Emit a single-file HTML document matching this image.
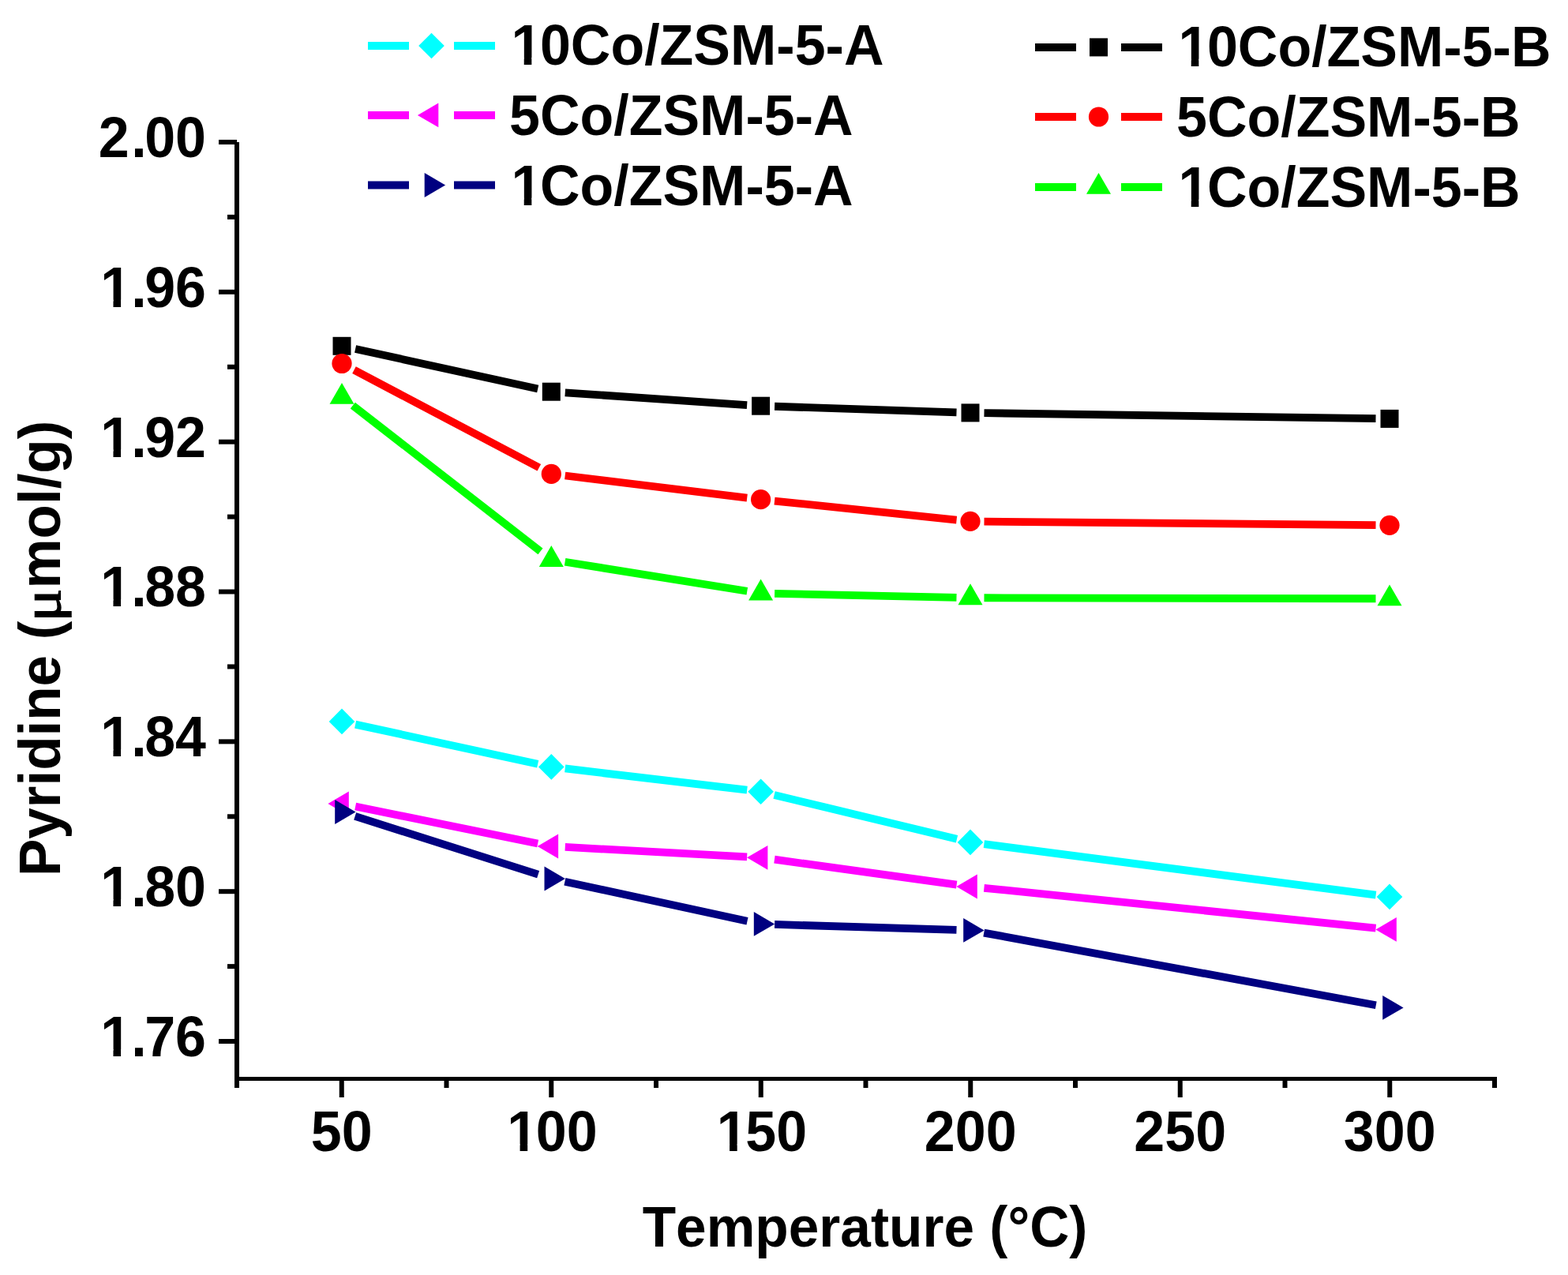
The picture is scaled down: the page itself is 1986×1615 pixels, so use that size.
<!DOCTYPE html>
<html><head><meta charset="utf-8"><title>Pyridine vs Temperature</title>
<style>
html,body{margin:0;padding:0;background:#fff;}
body{width:1986px;height:1615px;overflow:hidden;}
svg{display:block;}
text{font-family:"Liberation Sans",Arial,sans-serif;font-weight:bold;fill:#000;font-kerning:none;}
</style></head><body>
<svg width="1986" height="1615" viewBox="0 0 1986 1615">
<rect width="1986" height="1615" fill="#fff"/>
<g fill="#000">
<rect x="297" y="180" width="6" height="1198"/>
<rect x="297" y="1364" width="1599" height="5"/>
<rect x="277" y="177.00" width="23" height="6"/>
<rect x="277" y="366.84" width="23" height="6"/>
<rect x="277" y="556.68" width="23" height="6"/>
<rect x="277" y="746.52" width="23" height="6"/>
<rect x="277" y="936.36" width="23" height="6"/>
<rect x="277" y="1126.20" width="23" height="6"/>
<rect x="277" y="1316.04" width="23" height="6"/>
<rect x="288" y="271.92" width="12" height="6"/>
<rect x="288" y="461.76" width="12" height="6"/>
<rect x="288" y="651.60" width="12" height="6"/>
<rect x="288" y="841.44" width="12" height="6"/>
<rect x="288" y="1031.28" width="12" height="6"/>
<rect x="288" y="1221.12" width="12" height="6"/>
<rect x="429.75" y="1366" width="6" height="24"/>
<rect x="695.25" y="1366" width="6" height="24"/>
<rect x="960.75" y="1366" width="6" height="24"/>
<rect x="1226.25" y="1366" width="6" height="24"/>
<rect x="1491.75" y="1366" width="6" height="24"/>
<rect x="1757.25" y="1366" width="6" height="24"/>
<rect x="562.50" y="1366" width="6" height="12"/>
<rect x="828.00" y="1366" width="6" height="12"/>
<rect x="1093.50" y="1366" width="6" height="12"/>
<rect x="1359.00" y="1366" width="6" height="12"/>
<rect x="1624.50" y="1366" width="6" height="12"/>
<rect x="1890.00" y="1366" width="6" height="12"/>
</g>
<text transform="translate(261.00 198.90) scale(1 1.037)" x="-136.24" font-size="70">2<tspan dx="2.60">.</tspan><tspan dx="-2.60">0</tspan>0</text>
<text transform="translate(261.00 388.74) scale(1 1.037)" x="-136.24" font-size="70" clip-path="url(#c1)"><tspan dx="2.39">1</tspan><tspan dx="0.21">.</tspan><tspan dx="-2.60">9</tspan>6</text>
<text transform="translate(261.00 578.58) scale(1 1.037)" x="-136.24" font-size="70" clip-path="url(#c2)"><tspan dx="2.39">1</tspan><tspan dx="0.21">.</tspan><tspan dx="-2.60">9</tspan>2</text>
<text transform="translate(261.00 768.42) scale(1 1.037)" x="-136.24" font-size="70" clip-path="url(#c3)"><tspan dx="2.39">1</tspan><tspan dx="0.21">.</tspan><tspan dx="-2.60">8</tspan>8</text>
<text transform="translate(261.00 958.26) scale(1 1.037)" x="-136.24" font-size="70" clip-path="url(#c4)"><tspan dx="2.39">1</tspan><tspan dx="0.21">.</tspan><tspan dx="-2.60">8</tspan>4</text>
<text transform="translate(261.00 1148.10) scale(1 1.037)" x="-136.24" font-size="70" clip-path="url(#c5)"><tspan dx="2.39">1</tspan><tspan dx="0.21">.</tspan><tspan dx="-2.60">8</tspan>0</text>
<text transform="translate(261.00 1337.94) scale(1 1.037)" x="-136.24" font-size="70" clip-path="url(#c6)"><tspan dx="2.39">1</tspan><tspan dx="0.21">.</tspan><tspan dx="-2.60">7</tspan>6</text>
<text transform="translate(432.75 1458.20) scale(1 1.037)" x="-38.93" font-size="70">50</text>
<text transform="translate(698.25 1458.20) scale(1 1.037)" x="-58.40" font-size="70" clip-path="url(#c7)"><tspan dx="2.39">1</tspan><tspan dx="-2.39">0</tspan>0</text>
<text transform="translate(963.75 1458.20) scale(1 1.037)" x="-58.40" font-size="70" clip-path="url(#c8)"><tspan dx="2.39">1</tspan><tspan dx="-2.39">5</tspan>0</text>
<text transform="translate(1229.25 1458.20) scale(1 1.037)" x="-58.40" font-size="70">200</text>
<text transform="translate(1494.75 1458.20) scale(1 1.037)" x="-58.40" font-size="70">250</text>
<text transform="translate(1760.25 1458.20) scale(1 1.037)" x="-58.40" font-size="70">300</text>
<text transform="translate(1095.5 1579) scale(1 1.037)" font-size="69.4" text-anchor="middle">Temperature (°C)</text>
<text transform="translate(75.8 1110) rotate(-90) scale(1 1.037)" font-size="71"><tspan x="0">Pyridine (</tspan><tspan x="364.44">mol/g)</tspan></text>
<text transform="translate(75.8 766.6) rotate(-90) scale(1.166 1)" font-size="67" text-anchor="middle" style="font-family:'Liberation Serif',serif;font-weight:normal" stroke="#000" stroke-width="1.5">μ</text>
<path d="M450.10,442.03L681.20,492.47M715.76,497.38L946.14,513.02M981.09,514.77L1211.51,522.33M1246.50,523.15L1742.50,530.15" stroke="#000000" stroke-width="9.8" fill="none"/>
<rect x="421.50" y="426.80" width="23" height="23" fill="#000000"/>
<rect x="686.80" y="484.70" width="23" height="23" fill="#000000"/>
<rect x="952.10" y="502.70" width="23" height="23" fill="#000000"/>
<rect x="1217.50" y="511.40" width="23" height="23" fill="#000000"/>
<rect x="1748.50" y="518.90" width="23" height="23" fill="#000000"/>
<path d="M448.48,468.66L682.82,592.24M715.67,602.51L946.23,630.59M981.01,634.52L1211.59,658.58M1246.50,660.56L1742.50,665.14" stroke="#FF0000" stroke-width="9.8" fill="none"/>
<circle cx="433.00" cy="460.50" r="12.6" fill="#FF0000"/>
<circle cx="698.30" cy="600.40" r="12.6" fill="#FF0000"/>
<circle cx="963.60" cy="632.70" r="12.6" fill="#FF0000"/>
<circle cx="1229.00" cy="660.40" r="12.6" fill="#FF0000"/>
<circle cx="1760.00" cy="665.30" r="12.6" fill="#FF0000"/>
<path d="M446.82,513.64L684.48,698.26M715.58,711.77L946.32,748.73M981.10,751.88L1211.50,756.82M1246.50,757.24L1742.50,758.26" stroke="#00FF00" stroke-width="9.8" fill="none"/>
<polygon points="433.00,485.00 448.50,511.85 417.50,511.85" fill="#00FF00"/>
<polygon points="698.30,691.10 713.80,717.95 682.80,717.95" fill="#00FF00"/>
<polygon points="963.60,733.60 979.10,760.45 948.10,760.45" fill="#00FF00"/>
<polygon points="1229.00,739.30 1244.50,766.15 1213.50,766.15" fill="#00FF00"/>
<polygon points="1760.00,740.40 1775.50,767.25 1744.50,767.25" fill="#00FF00"/>
<path d="M450.10,917.61L681.20,967.69M715.68,973.46L946.22,1000.74M980.61,1006.91L1211.99,1062.79M1246.35,1069.16L1742.65,1133.64" stroke="#00FFFF" stroke-width="9.8" fill="none"/>
<polygon points="433.00,897.60 449.30,913.90 433.00,930.20 416.70,913.90" fill="#00FFFF"/>
<polygon points="698.30,955.10 714.60,971.40 698.30,987.70 682.00,971.40" fill="#00FFFF"/>
<polygon points="963.60,986.50 979.90,1002.80 963.60,1019.10 947.30,1002.80" fill="#00FFFF"/>
<polygon points="1229.00,1050.60 1245.30,1066.90 1229.00,1083.20 1212.70,1066.90" fill="#00FFFF"/>
<polygon points="1760.00,1119.60 1776.30,1135.90 1760.00,1152.20 1743.70,1135.90" fill="#00FFFF"/>
<path d="M450.15,1021.49L681.15,1068.51M715.77,1072.94L946.13,1085.36M980.94,1088.70L1211.66,1120.60M1246.41,1124.78L1742.59,1175.62" stroke="#FF00FF" stroke-width="9.8" fill="none"/>
<polygon points="415.40,1018.00 441.80,1002.60 441.80,1033.40" fill="#FF00FF"/>
<polygon points="680.70,1072.00 707.10,1056.60 707.10,1087.40" fill="#FF00FF"/>
<polygon points="946.00,1086.30 972.40,1070.90 972.40,1101.70" fill="#FF00FF"/>
<polygon points="1211.40,1123.00 1237.80,1107.60 1237.80,1138.40" fill="#FF00FF"/>
<polygon points="1742.40,1177.40 1768.80,1162.00 1768.80,1192.80" fill="#FF00FF"/>
<path d="M449.67,1033.81L681.63,1107.69M715.40,1116.70L946.50,1166.70M981.09,1170.93L1211.51,1177.87M1246.21,1181.58L1742.79,1273.22" stroke="#000080" stroke-width="9.8" fill="none"/>
<polygon points="450.60,1028.50 424.20,1013.10 424.20,1043.90" fill="#000080"/>
<polygon points="715.90,1113.00 689.50,1097.60 689.50,1128.40" fill="#000080"/>
<polygon points="981.20,1170.40 954.80,1155.00 954.80,1185.80" fill="#000080"/>
<polygon points="1246.60,1178.40 1220.20,1163.00 1220.20,1193.80" fill="#000080"/>
<polygon points="1777.60,1276.40 1751.20,1261.00 1751.20,1291.80" fill="#000080"/>
<path d="M466.00,58.00h52M575.00,58.00h52" stroke="#00FFFF" stroke-width="10" fill="none"/>
<polygon points="546.50,41.70 562.80,58.00 546.50,74.30 530.20,58.00" fill="#00FFFF"/>
<text transform="translate(645.00 82.00) scale(1 1.037)" x="0.00" font-size="70" clip-path="url(#c9)"><tspan dx="2.39">1</tspan><tspan dx="-2.39">0</tspan>Co/ZSM-5-A</text>
<path d="M466.00,145.90h52M575.00,145.90h52" stroke="#FF00FF" stroke-width="10" fill="none"/>
<polygon points="528.90,145.90 555.30,130.50 555.30,161.30" fill="#FF00FF"/>
<text transform="translate(645.00 171.00) scale(1 1.037)" x="0.00" font-size="70">5Co/ZSM-5-A</text>
<path d="M466.00,234.50h52M575.00,234.50h52" stroke="#000080" stroke-width="10" fill="none"/>
<polygon points="564.10,234.50 537.70,219.10 537.70,249.90" fill="#000080"/>
<text transform="translate(645.00 259.80) scale(1 1.037)" x="0.00" font-size="70" clip-path="url(#c10)"><tspan dx="2.39">1</tspan><tspan dx="-2.39">C</tspan>o/ZSM-5-A</text>
<path d="M1311.00,59.90h52M1420.00,59.90h52" stroke="#000000" stroke-width="10" fill="none"/>
<rect x="1380.00" y="48.40" width="23" height="23" fill="#000000"/>
<text transform="translate(1490.00 83.70) scale(1 1.037)" x="0.00" font-size="70" clip-path="url(#c11)"><tspan dx="2.39">1</tspan><tspan dx="-2.39">0</tspan>Co/ZSM-5-B</text>
<path d="M1311.00,148.00h52M1420.00,148.00h52" stroke="#FF0000" stroke-width="10" fill="none"/>
<circle cx="1391.50" cy="148.00" r="12.6" fill="#FF0000"/>
<text transform="translate(1490.00 172.90) scale(1 1.037)" x="0.00" font-size="70">5Co/ZSM-5-B</text>
<path d="M1311.00,236.90h52M1420.00,236.90h52" stroke="#00FF00" stroke-width="10" fill="none"/>
<polygon points="1391.50,219.00 1407.00,245.85 1376.00,245.85" fill="#00FF00"/>
<text transform="translate(1490.00 261.80) scale(1 1.037)" x="0.00" font-size="70" clip-path="url(#c12)"><tspan dx="2.39">1</tspan><tspan dx="-2.39">C</tspan>o/ZSM-5-B</text>
<defs><clipPath id="c1" clipPathUnits="userSpaceOnUse"><path clip-rule="evenodd" d="M-156.24,-105.00H20.00V42.00H-156.24ZM-130.43,-8.74H-117.51V3.00H-130.43ZM-107.91,-8.74H-95.91V3.00H-107.91Z"/></clipPath><clipPath id="c2" clipPathUnits="userSpaceOnUse"><path clip-rule="evenodd" d="M-156.24,-105.00H20.00V42.00H-156.24ZM-130.43,-8.74H-117.51V3.00H-130.43ZM-107.91,-8.74H-95.91V3.00H-107.91Z"/></clipPath><clipPath id="c3" clipPathUnits="userSpaceOnUse"><path clip-rule="evenodd" d="M-156.24,-105.00H20.00V42.00H-156.24ZM-130.43,-8.74H-117.51V3.00H-130.43ZM-107.91,-8.74H-95.91V3.00H-107.91Z"/></clipPath><clipPath id="c4" clipPathUnits="userSpaceOnUse"><path clip-rule="evenodd" d="M-156.24,-105.00H20.00V42.00H-156.24ZM-130.43,-8.74H-117.51V3.00H-130.43ZM-107.91,-8.74H-95.91V3.00H-107.91Z"/></clipPath><clipPath id="c5" clipPathUnits="userSpaceOnUse"><path clip-rule="evenodd" d="M-156.24,-105.00H20.00V42.00H-156.24ZM-130.43,-8.74H-117.51V3.00H-130.43ZM-107.91,-8.74H-95.91V3.00H-107.91Z"/></clipPath><clipPath id="c6" clipPathUnits="userSpaceOnUse"><path clip-rule="evenodd" d="M-156.24,-105.00H20.00V42.00H-156.24ZM-130.43,-8.74H-117.51V3.00H-130.43ZM-107.91,-8.74H-95.91V3.00H-107.91Z"/></clipPath><clipPath id="c7" clipPathUnits="userSpaceOnUse"><path clip-rule="evenodd" d="M-78.40,-105.00H78.40V42.00H-78.40ZM-52.59,-8.74H-39.67V3.00H-52.59ZM-30.06,-8.74H-18.06V3.00H-30.06Z"/></clipPath><clipPath id="c8" clipPathUnits="userSpaceOnUse"><path clip-rule="evenodd" d="M-78.40,-105.00H78.40V42.00H-78.40ZM-52.59,-8.74H-39.67V3.00H-52.59ZM-30.06,-8.74H-18.06V3.00H-30.06Z"/></clipPath><clipPath id="c9" clipPathUnits="userSpaceOnUse"><path clip-rule="evenodd" d="M-20.00,-105.00H494.48V42.00H-20.00ZM5.81,-8.74H18.73V3.00H5.81ZM28.33,-8.74H40.33V3.00H28.33Z"/></clipPath><clipPath id="c10" clipPathUnits="userSpaceOnUse"><path clip-rule="evenodd" d="M-20.00,-105.00H455.55V42.00H-20.00ZM5.81,-8.74H18.73V3.00H5.81ZM28.33,-8.74H40.33V3.00H28.33Z"/></clipPath><clipPath id="c11" clipPathUnits="userSpaceOnUse"><path clip-rule="evenodd" d="M-20.00,-105.00H494.48V42.00H-20.00ZM5.81,-8.74H18.73V3.00H5.81ZM28.33,-8.74H40.33V3.00H28.33Z"/></clipPath><clipPath id="c12" clipPathUnits="userSpaceOnUse"><path clip-rule="evenodd" d="M-20.00,-105.00H455.55V42.00H-20.00ZM5.81,-8.74H18.73V3.00H5.81ZM28.33,-8.74H40.33V3.00H28.33Z"/></clipPath></defs>
</svg>
</body></html>
